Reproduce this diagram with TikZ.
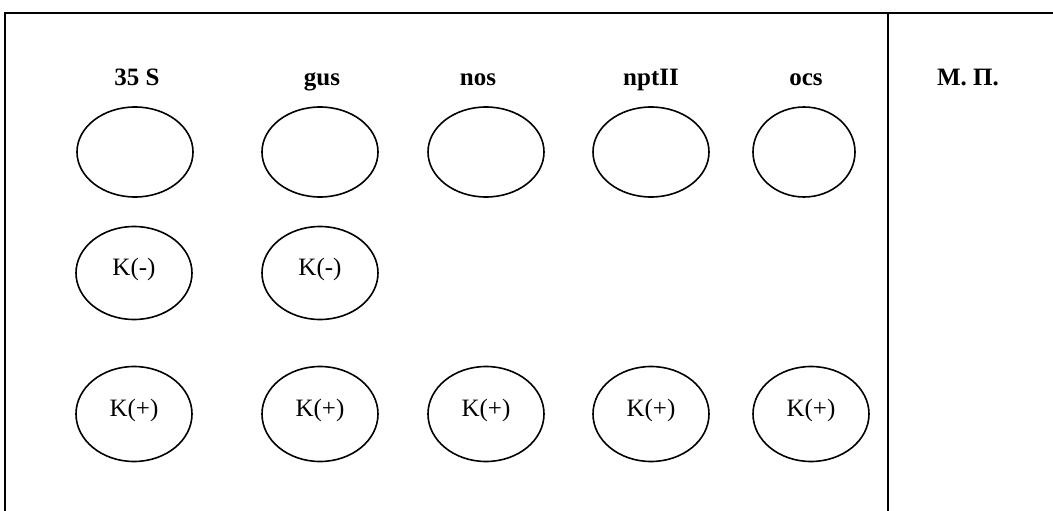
\documentclass[tikz,border=0pt]{standalone}
\usepackage{fontspec}
\setmainfont{Liberation Serif}
\usetikzlibrary{shapes.geometric,positioning}
\tikzstyle{plate}=[draw,ellipse,line width=1.6pt,minimum width=116pt,minimum height=90pt,inner sep=0pt,text depth=12pt,font=\fontsize{25}{30}\selectfont]

\begin{document}
\begin{tikzpicture}[
  x=1pt,y=-1pt,
  frame/.style={line width=2pt},
  head/.style={anchor=base,font=\fontsize{25}{30}\selectfont\bfseries}
]
\useasboundingbox (0,0) rectangle (1053,511);

% frame
\coordinate (tl) at (5,13);
\coordinate (tr) at (1053,13);
\coordinate (bl) at (5,511);
\coordinate (dt) at (888,13);
\coordinate (db) at (888,511);
\draw [frame] (bl) -- (tl) -- (tr);
\draw [frame] (dt) -- (db);

% column heads
\node [head] (h1) at (137,85) {35 S};
\node [head] (h2) at (322,85) {gus};
\node [head] (h3) at (478,85) {nos};
\node [head] (h4) at (651,85) {nptII};
\node [head] (h5) at (806,85) {ocs};
\node [head] (h6) at (968,85) {М. П.};

% row 1
\node [plate] (a1) at (135,152) {};
\node [plate] (a2) at (320,152) {};
\node [plate] (a3) at (486,152) {};
\node [plate] (a4) at (651,152) {};
\node [plate, minimum width=102pt] (a5) at (804,152) {};

% row 2
\node [plate, minimum height=93pt] (b1) at (134,273) {K(-)};
\node [plate, minimum height=93pt] (b2) at (320,273) {K(-)};

% row 3
\node [plate, minimum height=95pt] (c1) at (134,414) {K(+)};
\node [plate, minimum height=95pt] (c2) at (320,414) {K(+)};
\node [plate, minimum height=95pt] (c3) at (486,414) {K(+)};
\node [plate, minimum height=95pt] (c4) at (651,414) {K(+)};
\node [plate, minimum height=95pt] (c5) at (811,414) {K(+)};
\end{tikzpicture}
\end{document}
